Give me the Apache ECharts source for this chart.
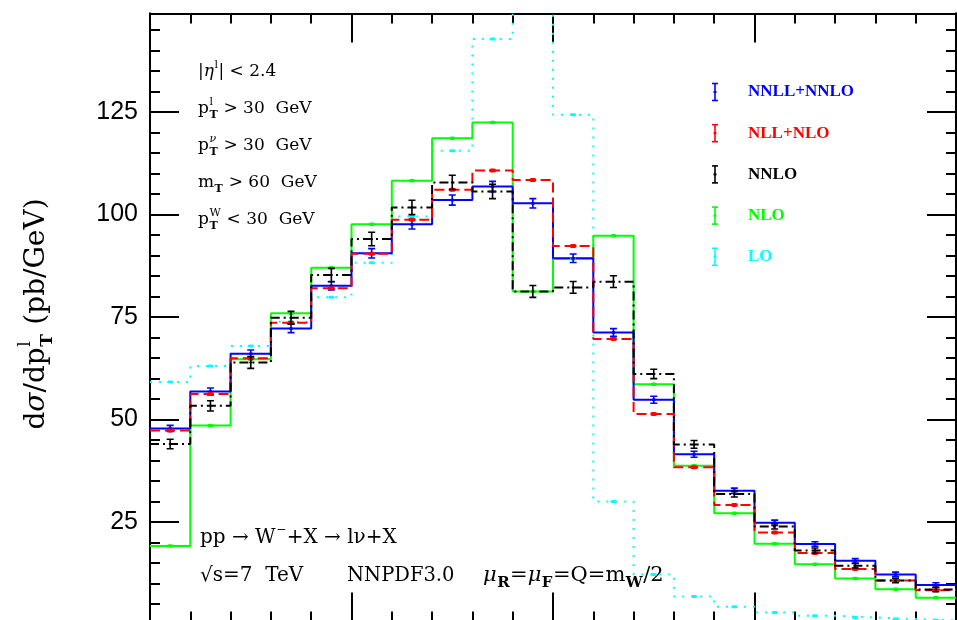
<!DOCTYPE html>
<html>
<head>
<meta charset="utf-8">
<script src="https://cdn.jsdelivr.net/npm/echarts@6/dist/echarts.min.js"></script>
<style>
html, body { margin: 0; padding: 0; background: #fff; }
#chart { width: 957px; height: 620px; }
</style>
</head>
<body>
<div id="chart"></div>
<script>
// Bin edges of the lepton transverse momentum (GeV)
const binEdges = [30, 31, 32, 33, 34, 35, 36, 37, 38, 39, 40, 41, 42, 43, 44, 45, 46, 47, 48, 49, 50];

// dsigma/dpT per bin (pb/GeV)
const nnllNnlo = [47.8, 56.8, 66.0, 72.2, 82.6, 90.5, 97.6, 103.5, 106.8, 102.7, 89.3, 71.2, 54.8, 41.5, 32.6, 24.8, 19.6, 15.5, 12.2, 9.6];
const nllNlo   = [47.3, 56.2, 64.9, 73.6, 82.0, 90.4, 98.7, 106.0, 110.7, 108.4, 92.3, 69.6, 51.3, 38.3, 29.1, 22.4, 17.4, 13.5, 10.7, 8.3];
const nnlo     = [44.0, 53.3, 63.9, 74.8, 85.2, 94.0, 101.7, 107.8, 105.6, 81.2, 82.2, 83.6, 61.1, 43.9, 31.8, 23.9, 18.0, 14.3, 10.7, 8.5];
const nlo      = [19.1, 48.5, 64.7, 75.9, 87.0, 97.6, 108.2, 118.6, 122.4, 81.2, 89.2, 94.8, 58.6, 38.7, 27.1, 19.7, 14.7, 11.2, 8.6, 6.5];
const lo       = [59.1, 63.0, 67.9, 73.8, 79.8, 88.2, 99.5, 115.5, 142.8, 170.0, 124.3, 30.0, 12.2, 6.8, 4.3, 2.9, 2.1, 1.7, 1.3, 1.0];

// Scale-variation / integration uncertainties (pb/GeV)
const nnllNnloErr = [0.5, 0.6, 0.7, 0.8, 0.8, 0.9, 0.9, 1.0, 1.0, 0.9, 0.8, 0.7, 0.6, 0.5, 0.4, 0.4, 0.3, 0.3, 0.3, 0.3];
const nnloErr     = [0.9, 1.0, 1.2, 1.3, 1.4, 1.4, 1.5, 1.5, 1.5, 1.2, 1.2, 1.2, 0.9, 0.7, 0.5, 0.4, 0.4, 0.3, 0.3, 0.3];
const nllNloErr   = [0.3, 0.3, 0.3, 0.3, 0.3, 0.3, 0.3, 0.3, 0.3, 0.3, 0.3, 0.3, 0.3, 0.3, 0.2, 0.2, 0.2, 0.2, 0.2, 0.2];
const nloErr      = [0.1, 0.1, 0.1, 0.1, 0.1, 0.1, 0.1, 0.1, 0.1, 0.1, 0.1, 0.1, 0.1, 0.1, 0.1, 0.1, 0.1, 0.1, 0.1, 0.1];
const loErr       = [0.1, 0.1, 0.1, 0.1, 0.1, 0.1, 0.1, 0.1, 0.1, 0.1, 0.1, 0.1, 0.1, 0.1, 0.1, 0.1, 0.1, 0.1, 0.1, 0.1];

// Axis ranges and labelled ticks
const xRange = [30, 50];
const yRange = [0, 149];
const yTickLabels = [25, 50, 75, 100, 125];

const legendNames = ['NNLL+NNLO', 'NLL+NLO', 'NNLO', 'NLO', 'LO'];

// ---------------------------------------------------------------
const SERIF = '"DejaVu Serif", serif';

const series = [
  { name: 'LO',        values: lo,       errs: loErr,       color: '#00ffff', dash: [2, 7],        width: 2,   cap: 0, mark: [6, 3] },
  { name: 'NLO',       values: nlo,      errs: nloErr,      color: '#00ff00', dash: 'solid',       width: 2,   cap: 0, mark: [6, 3.5] },
  { name: 'NNLL+NNLO', values: nnllNnlo, errs: nnllNnloErr, color: '#0000ff', dash: 'solid',       width: 2,   cap: 3.5, mark: [4, 3] },
  { name: 'NLL+NLO',   values: nllNlo,   errs: nllNloErr,   color: '#ff0000', dash: [10, 5],       width: 2,   cap: 0, mark: [7, 4] },
  { name: 'NNLO',      values: nnlo,     errs: nnloErr,     color: '#000000', dash: [9, 4, 2, 4],  width: 2,   cap: 3.5, mark: [3, 2] }
];

function stepData(values) {
  const pts = values.map((v, i) => [binEdges[i], v]);
  pts.push([binEdges[binEdges.length - 1], values[values.length - 1]]);
  return pts;
}

function lineSeries(s) {
  return {
    type: 'line', name: s.name, step: 'end', symbol: 'none', silent: true,
    clip: true, z: 3,
    data: stepData(s.values),
    lineStyle: { color: s.color, width: s.width, type: s.dash, cap: 'butt' }
  };
}

function errSeries(s) {
  return {
    type: 'custom', name: s.name + ' err', silent: true, clip: true, z: 4,
    data: s.values.map((v, i) => [(binEdges[i] + binEdges[i + 1]) / 2, v, s.errs[i]]),
    encode: { x: 0, y: 1 },
    renderItem(params, api) {
      const x = api.value(0), v = api.value(1), e = api.value(2);
      const c = api.coord([x, v]);
      const hi = api.coord([x, v + e]);
      const lo = api.coord([x, v - e]);
      const st = { stroke: s.color, lineWidth: 1.6 };
      const kids = [];
      if (s.cap > 0) {
        kids.push({ type: 'line', shape: { x1: c[0], y1: hi[1] - 1, x2: c[0], y2: lo[1] + 1 }, style: st });
        kids.push({ type: 'line', shape: { x1: c[0] - s.cap, y1: hi[1] - 1, x2: c[0] + s.cap, y2: hi[1] - 1 }, style: st });
        kids.push({ type: 'line', shape: { x1: c[0] - s.cap, y1: lo[1] + 1, x2: c[0] + s.cap, y2: lo[1] + 1 }, style: st });
      }
      kids.push({ type: 'rect', shape: { x: c[0] - s.mark[0] / 2, y: c[1] - s.mark[1] / 2, width: s.mark[0], height: s.mark[1], r: s.mark[1] / 2 }, style: { fill: s.color } });
      return { type: 'group', children: kids };
    }
  };
}

// ---------------------------------------------------------------
// Text with sub/superscripts laid out run by run
const mctx = document.createElement('canvas').getContext('2d');
function fontStr(size, italic, weight) {
  return (italic ? 'italic ' : '') + (weight || 'normal') + ' ' + size + 'px ' + SERIF;
}
function textW(str, font) { mctx.font = font; return mctx.measureText(str).width; }

function runsGroup(runs, size, color, smallRatio) {
  let x = 0;
  const kids = [];
  const small = Math.round(size * (smallRatio || 0.62));
  for (const r of runs) {
    if (r.t !== undefined) {
      const f = fontStr(size, r.italic);
      kids.push({ type: 'text', x: x, y: 0, style: { text: r.t, font: f, fill: color, align: 'left', verticalAlign: 'middle' } });
      x += textW(r.t, f);
    } else {
      const f = fontStr(small, false, 'bold');
      let w = 0;
      if (r.sub) {
        kids.push({ type: 'text', x: x + 0.5, y: size * 0.36, style: { text: r.sub, font: f, fill: color, align: 'left', verticalAlign: 'middle' } });
        w = Math.max(w, textW(r.sub, f));
      }
      if (r.sup) {
        kids.push({ type: 'text', x: x + 0.5, y: -size * 0.42, style: { text: r.sup, font: fontStr(small, r.supItalic), fill: color, align: 'left', verticalAlign: 'middle' } });
        w = Math.max(w, textW(r.sup, fontStr(small, r.supItalic)));
      }
      x += w + 1;
    }
  }
  return { kids, width: x };
}

function note(x, y, runs, size, smallRatio) {
  const g = runsGroup(runs, size, '#000', smallRatio);
  return { type: 'group', x: x, y: y, children: g.kids, silent: true };
}

const graphics = [];

// Selection cuts
const cutRuns = [
  [{ t: '|' }, { t: 'η', italic: true }, { sup: 'l' }, { t: '| < 2.4' }],
  [{ t: 'p' }, { sub: 'T', sup: 'l' }, { t: ' > 30  GeV' }],
  [{ t: 'p' }, { sub: 'T', sup: 'ν', supItalic: true }, { t: ' > 30  GeV' }],
  [{ t: 'm' }, { sub: 'T' }, { t: ' > 60  GeV' }],
  [{ t: 'p' }, { sub: 'T', sup: 'W' }, { t: ' < 30  GeV' }]
];
cutRuns.forEach((r, i) => graphics.push(note(198, 72 + 37 * i, r, 17, 0.66)));

// Process / setup
graphics.push(note(200, 538, [{ t: 'pp → W' }, { sup: '−' }, { t: '+X → lν+X' }], 20));
graphics.push(note(200, 576, [{ t: '√s=7  TeV' }], 20));
graphics.push(note(347, 576, [{ t: 'NNPDF3.0' }], 19.5));
graphics.push(note(483, 576, [{ t: 'μ', italic: true }, { sub: 'R' }, { t: '=' }, { t: 'μ', italic: true }, { sub: 'F' }, { t: '=Q=m' }, { sub: 'W' }, { t: '/2' }], 21, 0.72));

// Vertical axis title
(function () {
  const g = runsGroup([{ t: 'd' }, { t: 'σ', italic: true }, { t: '/dp' }, { sub: 'T', sup: 'l' }, { t: ' (pb/GeV)' }], 28, '#000');
  g.kids.forEach(k => { k.x -= g.width / 2; });
  graphics.push({ type: 'group', x: 37, y: 314, rotation: Math.PI / 2, children: g.kids, silent: true });
})();

// Legend: error-bar glyph + coloured name
const legendColors = { 'NNLL+NNLO': '#0000ff', 'NLL+NLO': '#ff0000', 'NNLO': '#000000', 'NLO': '#00ff00', 'LO': '#00ffff' };
legendNames.forEach((name, i) => {
  const y = 92 + 41.2 * i;
  const col = legendColors[name];
  const st = { stroke: col, lineWidth: 1.6 };
  graphics.push({ type: 'group', x: 715, y: y, silent: true, children: [
    { type: 'line', shape: { x1: 0, y1: -8.5, x2: 0, y2: 8.5 }, style: st },
    { type: 'line', shape: { x1: -3, y1: -8.5, x2: 3, y2: -8.5 }, style: st },
    { type: 'line', shape: { x1: -3, y1: 8.5, x2: 3, y2: 8.5 }, style: st },
    { type: 'rect', shape: { x: -1.5, y: -1, width: 3, height: 2 }, style: { fill: col } }
  ]});
  graphics.push({ type: 'text', x: 748, y: y, silent: true,
    style: { text: name, font: 'bold 17px "Liberation Serif", serif', fill: col, align: 'left', verticalAlign: 'middle' } });
});

// ---------------------------------------------------------------
const axLine = { show: true, onZero: false, lineStyle: { color: '#000', width: 2 } };
const tickStyle = { color: '#000', width: 2 };

function xAxisDef(pos, offset) {
  return {
    type: 'value', position: pos, offset: offset, min: xRange[0], max: xRange[1], interval: 5,
    axisLine: axLine,
    axisTick: { show: true, inside: true, length: 29, lineStyle: tickStyle },
    minorTick: { show: true, splitNumber: 5, length: 10, lineStyle: tickStyle },
    axisLabel: { show: false }, splitLine: { show: false }, minorSplitLine: { show: false }
  };
}
function yAxisDef(pos, interval, len, labels) {
  return {
    type: 'value', position: pos, min: yRange[0], max: yRange[1], interval: interval,
    axisLine: axLine,
    axisTick: { show: true, inside: true, length: len, lineStyle: tickStyle },
    axisLabel: labels ? {
      show: true, margin: 12, color: '#000', fontSize: 25, fontFamily: '"Liberation Sans", Arial, sans-serif',
      formatter: v => (yTickLabels.indexOf(v) >= 0 ? String(v) : '')
    } : { show: false },
    splitLine: { show: false }
  };
}

const chart = echarts.init(document.getElementById('chart'), null, { renderer: 'canvas' });
chart.setOption({
  animation: false,
  backgroundColor: '#ffffff',
  grid: { left: 150, top: 13.5, width: 806, height: 610.9, containLabel: false, outerBoundsMode: 'none', show: false },
  xAxis: [xAxisDef('bottom', -3), xAxisDef('top', 0)],
  yAxis: [
    yAxisDef('left', 5, 10, false),
    yAxisDef('left', 25, 29, true),
    yAxisDef('right', 5, 10, false),
    yAxisDef('right', 25, 29, false)
  ],
  series: series.map(lineSeries).concat(series.map(errSeries)),
  graphic: graphics
});
</script>
</body>
</html>
